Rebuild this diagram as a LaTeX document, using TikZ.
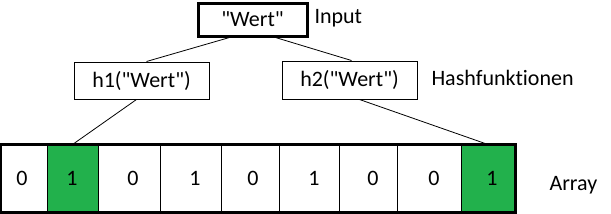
\documentclass[tikz,border=0pt]{standalone}
\usepackage{fontspec}
\setmainfont{Carlito}[Ligatures={TeXOff,NoCommon}]
\usepackage{tikz}
\definecolor{bitgreen}{HTML}{22B14C}

\begin{document}
\begin{tikzpicture}[x=1pt,y=-1pt,font=\fontsize{22}{26}\selectfont,
  box/.style={draw,line width=1pt,inner sep=0pt},
  cell/.style={draw,line width=1pt,inner sep=0pt,minimum height=67pt},
  link/.style={line width=0.8pt}]
  \useasboundingbox (0,0) rectangle (611,214);
  % input value and hash functions
  \node[box,line width=3pt,minimum width=109pt,minimum height=33pt] (wert) at (252.5,19.5) {"Wert"};
  \node[anchor=west] (input) at (311,18) {Input};
  \node[box,minimum width=135pt,minimum height=37pt] (h1) at (141.5,80.5) {h1("Wert")};
  \node[box,minimum width=135pt,minimum height=38pt] (h2) at (349.5,80) {h2("Wert")};
  \node[anchor=west] (hash) at (428,78) {Hashfunktionen};
  % bit array
  \foreach \i/\x/\w/\fill in {1/24/46/white, 2/72.5/51/bitgreen, 3/129/62/white,
      4/190.5/61/white, 5/250/58/white, 6/309/60/white, 7/368/58/white,
      8/429/64/white, 9/488/54/bitgreen}{
     \node[cell,fill=\fill,minimum width=\w pt] (c\i) at (\x,178.5) {};
  }
  \foreach \i/\x/\b in {1/22/0, 2/72/1, 3/133/0, 4/195/1, 5/253/0, 6/314/1,
      7/373/0, 8/434/0, 9/492/1}{
     \node (b\i) at (\x,178) {\b};
  }
  \draw[line width=3.5pt] (c1.north west) rectangle (c9.south east);
  \node[anchor=west] (array) at (546,185) {Array};
  % connections
  \draw[link] ([xshift=-23pt]wert.south) -- ([xshift=5pt]h1.north);
  \draw[link] ([xshift=23pt]wert.south) -- ([xshift=2pt]h2.north);
  \draw[link] ([xshift=-5pt]h1.south) -- (c2.north);
  \draw[link] ([xshift=10pt]h2.south) -- (c9.north);
\end{tikzpicture}
\end{document}
